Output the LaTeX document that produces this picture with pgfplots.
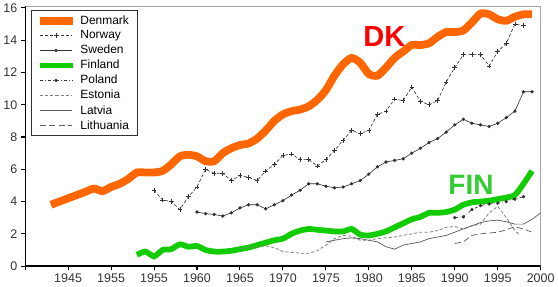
\documentclass[border=0pt]{standalone}
\usepackage{fontspec}
\setmainfont{Liberation Sans}
\usepackage{pgfplots}
\pgfplotsset{compat=1.18}
\definecolor{dkor}{HTML}{FF6600}
\definecolor{fing}{HTML}{11CC00}
\definecolor{fintxt}{HTML}{33CC33}
\definecolor{tk}{HTML}{333333}
\begin{document}
\begin{tikzpicture}
\begin{axis}[
  width=496pt, height=250pt, scale only axis,
  xmin=1940, xmax=2000, ymin=0, ymax=16.1,
  xtick={1940,1945,...,2000},
  xticklabels={,1945,1955,1955,1960,1965,1970,1975,1980,1985,1990,1995,2000},
  ytick={0,2,...,16},
  tick align=outside, tick pos=left,
  major tick length=4pt,
  tick style={black, line width=1pt},
  axis line style={draw=gray!70, line width=0.8pt},
  /pgf/number format/assume math mode=true,
  ticklabel style={font=\fontsize{12}{14}\selectfont, text=tk},
  legend style={at={(rel axis cs:0.012,0.985)}, anchor=north west,
    draw=tk, line width=0.8pt, font=\fontsize{11.5}{13}\selectfont,
    row sep=0.6pt, inner xsep=4pt, inner ysep=3pt,
    nodes={inner xsep=4pt}},
  legend cell align=left,
  legend image code/.code={\draw[mark repeat=2,mark phase=2,#1] plot coordinates {(0cm,0cm) (0.55cm,0cm) (1.1cm,0cm)};},
]
% Denmark
\addplot[dkor, line width=7.5pt, smooth, tension=0.4] coordinates {
(1943,3.8)(1944,4.0)(1945,4.2)(1946,4.4)(1947,4.6)(1948,4.8)(1949,4.65)(1950,4.9)
(1951,5.1)(1952,5.4)(1953,5.8)(1954,5.8)(1955,5.8)(1956,5.9)(1957,6.3)(1958,6.8)
(1959,6.9)(1960,6.8)(1961,6.5)(1962,6.5)(1963,7.0)(1964,7.3)(1965,7.5)(1966,7.6)
(1967,7.9)(1968,8.4)(1969,9.0)(1970,9.4)(1971,9.6)(1972,9.7)(1973,9.9)(1974,10.3)
(1975,10.9)(1976,11.8)(1977,12.5)(1978,12.9)(1979,12.6)(1980,11.9)(1981,11.8)
(1982,12.3)(1983,12.9)(1984,13.3)(1985,13.7)(1986,13.7)(1987,13.8)(1988,14.2)
(1989,14.5)(1990,14.5)(1991,14.6)(1992,15.1)(1993,15.65)(1994,15.6)(1995,15.3)
(1996,15.2)(1997,15.45)(1998,15.6)(1999,15.6)};
\addlegendentry{Denmark}
% Norway
\addplot[tk, densely dashed, line width=0.6pt, mark=+, mark size=2.2pt, mark options={solid}] coordinates {
(1955,4.7)(1956,4.1)(1957,4.0)(1958,3.5)(1959,4.3)(1960,4.9)(1961,6.0)(1962,5.75)
(1963,5.75)(1964,5.3)(1965,5.6)(1966,5.5)(1967,5.3)(1968,5.9)(1969,6.3)(1970,6.85)
(1971,6.95)(1972,6.6)(1973,6.6)(1974,6.2)(1975,6.6)(1976,7.15)(1977,7.8)(1978,8.4)
(1979,8.2)(1980,8.4)(1981,9.4)(1982,9.6)(1983,10.35)(1984,10.25)(1985,11.1)
(1986,10.2)(1987,10.0)(1988,10.25)(1989,11.4)(1990,12.3)(1991,13.1)(1992,13.1)
(1993,13.1)(1994,12.4)(1995,13.3)(1996,13.8)(1997,15.0)(1998,14.9)};
\addlegendentry{Norway}
% Sweden
\addplot[tk, line width=0.6pt, mark=*, mark size=1.3pt] coordinates {
(1960,3.35)(1961,3.25)(1962,3.2)(1963,3.1)(1964,3.3)(1965,3.6)(1966,3.8)(1967,3.8)
(1968,3.55)(1969,3.8)(1970,4.05)(1971,4.4)(1972,4.7)(1973,5.1)(1974,5.1)(1975,4.95)
(1976,4.85)(1977,4.9)(1978,5.1)(1979,5.3)(1980,5.7)(1981,6.15)(1982,6.45)(1983,6.55)
(1984,6.65)(1985,7.0)(1986,7.3)(1987,7.65)(1988,7.9)(1989,8.3)(1990,8.75)(1991,9.1)
(1992,8.85)(1993,8.75)(1994,8.65)(1995,8.85)(1996,9.2)(1997,9.6)(1998,10.8)(1999,10.8)};
\addlegendentry{Sweden}
% Finland
\addplot[fing, line width=5.5pt, smooth, tension=0.4] coordinates {
(1953,0.7)(1954,0.9)(1955,0.6)(1956,1.0)(1957,1.05)(1958,1.35)(1959,1.2)(1960,1.25)
(1961,1.0)(1962,0.9)(1963,0.9)(1964,0.95)(1965,1.05)(1966,1.15)(1967,1.3)(1968,1.45)
(1969,1.6)(1970,1.7)(1971,2.0)(1972,2.2)(1973,2.3)(1974,2.25)(1975,2.2)(1976,2.15)
(1977,2.15)(1978,2.3)(1979,1.95)(1980,1.9)(1981,2.0)(1982,2.15)(1983,2.4)(1984,2.65)
(1985,2.9)(1986,3.05)(1987,3.3)(1988,3.3)(1989,3.35)(1990,3.5)(1991,3.8)(1992,3.95)
(1993,4.0)(1994,4.05)(1995,4.15)(1996,4.25)(1997,4.4)(1998,5.1)(1999,5.9)};
\addlegendentry{Finland}
% Poland
\addplot[tk, dash dot, line width=0.6pt, mark=*, mark size=1.3pt, mark options={solid}] coordinates {
(1990,3.0)(1991,3.05)(1992,3.5)(1993,3.75)(1994,3.85)(1995,3.9)(1996,4.0)(1997,4.15)(1998,4.3)};
\addlegendentry{Poland}
% Estonia
\addplot[gray, densely dashed, line width=0.8pt] coordinates {
(1965,1.05)(1966,1.15)(1967,1.2)(1968,1.25)(1969,1.15)(1970,0.9)(1971,0.85)(1972,0.8)
(1973,0.8)(1974,0.95)(1975,1.3)(1976,1.7)(1977,1.9)(1978,1.85)(1979,1.6)(1980,1.6)
(1981,1.7)(1982,1.75)(1983,1.8)(1984,1.9)(1985,2.0)(1986,2.1)(1987,2.1)(1988,2.2)
(1989,2.4)(1990,2.45)(1991,2.3)(1992,2.5)(1993,2.6)(1994,3.3)(1995,3.7)(1996,3.0)
(1997,2.2)(1997.6,1.9)};
\addlegendentry{Estonia}
% Latvia
\addplot[tk!80, line width=0.7pt] coordinates {
(1975,1.5)(1976,1.6)(1977,1.7)(1978,1.75)(1979,1.7)(1980,1.6)(1981,1.5)(1982,1.2)
(1983,1.05)(1984,1.3)(1985,1.4)(1986,1.5)(1987,1.7)(1988,1.8)(1989,1.9)(1990,2.1)
(1991,2.3)(1992,2.5)(1993,2.7)(1994,2.8)(1995,2.85)(1996,2.75)(1997,2.6)(1998,2.6)
(1999,2.9)(2000,3.3)};
\addlegendentry{Latvia}
% Lithuania
\addplot[tk!80, dash pattern=on 6pt off 3pt, line width=0.7pt] coordinates {
(1990,1.4)(1991,1.5)(1992,1.9)(1993,2.0)(1994,2.05)(1995,2.1)(1996,2.25)(1997,2.45)
(1998,2.3)(1999,2.1)};
\addlegendentry{Lithuania}
\node[text=red, font=\bfseries\fontsize{28}{30}\selectfont] at (axis cs:1981.8,14.2) {DK};
\node[text=fintxt, font=\bfseries\fontsize{27}{29}\selectfont] at (axis cs:1991.9,5.05) {FIN};
\draw[black, line width=1.4pt] (rel axis cs:0,1) -- (rel axis cs:0,0) -- (rel axis cs:1,0);
\end{axis}
\end{tikzpicture}
\end{document}
